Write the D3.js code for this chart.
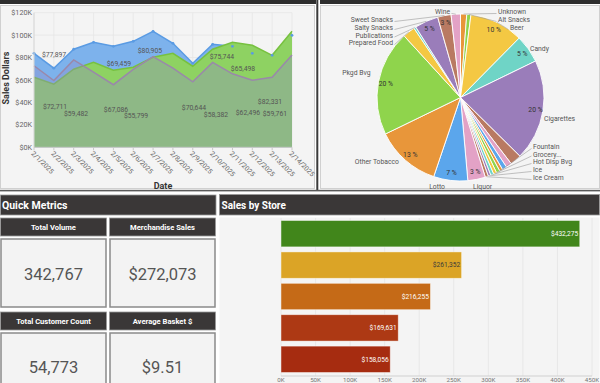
<!DOCTYPE html>
<html><head><meta charset="utf-8">
<script src="https://cdn.jsdelivr.net/npm/d3@7"></script>
<style>
html,body{margin:0;padding:0;background:#fff;}
svg{display:block;font-family:Roboto,"Noto Sans",sans-serif;}
</style></head><body>
<svg id="c" width="600" height="383"></svg>
<script>
// ---------------- DATA ----------------
const dates = ["2025-02-01","2025-02-02","2025-02-03","2025-02-04","2025-02-05","2025-02-06","2025-02-07",
               "2025-02-08","2025-02-09","2025-02-10","2025-02-11","2025-02-12","2025-02-13","2025-02-14"];
const salesBlue   = [83800,70500,87400,93600,90000,94500,103400,92700,74900,91800,90000,83800,82000,99800];
const salesGreen  = [62500,56300,69600,75800,68700,71400,80300,83800,72300,87400,93600,90900,82000,103400];
const salesPurple = [72711,59482,77897,67086,55799,69459,80905,70644,58382,75744,65498,59761,62496,82331];
const yTickValues = [0,20000,40000,60000,80000,100000,120000];

const pieCategories = ["Unknown","Alt Snacks","Beer","Candy","Cigarettes","Coffee","Dairy","Deli","Energy",
  "Fountain","Grocery...","Hot Disp Bvg","Ice","Ice Cream","Liquor","Lotto","Other Tobacco","Pkgd Bvg",
  "Prepared Food","Publications","Salty Snacks","Sweet Snacks","Wine"];
const pieShares = [1.2,0.8,10.4,5.4,19.6,2.2,1.1,0.9,0.6,0.7,0.6,0.6,0.5,0.6,3.4,6.6,12.6,20.4,2.4,0.4,4.6,2.6,1.8];
const pieLabelled = ["Unknown","Alt Snacks","Beer","Candy","Cigarettes","Fountain","Grocery...","Hot Disp Bvg",
  "Ice","Ice Cream","Liquor","Lotto","Other Tobacco","Pkgd Bvg","Prepared Food","Publications","Salty Snacks",
  "Sweet Snacks","Wine"];

const storeIds = ["S1","S2","S3","S4","S5"];
const storeSales = [432275,261352,216255,169631,158056];
const barTickValues = [0,50000,100000,150000,200000,250000,300000,350000,400000,450000];

const metricNames = ["Total Volume","Merchandise Sales","Total Customer Count","Average Basket $"];
const metricValues = ["342,767","$272,073","54,773","$9.51"];

// ---------------- LAYOUT / STYLE ----------------
const svg = d3.select("#c");

// panels
svg.append("rect").attr("x",0).attr("y",0).attr("width",316).attr("height",4).attr("fill","#2e2e2e");
svg.append("rect").attr("x",320).attr("y",0).attr("width",280).attr("height",4).attr("fill","#2e2e2e");
svg.append("rect").attr("x",0.5).attr("y",5.5).attr("width",314).attr("height",183).attr("fill","#f4f4f4").attr("stroke","#d0d0d0");
svg.append("rect").attr("x",320.5).attr("y",5.5).attr("width",279).attr("height",183).attr("fill","#f4f4f4").attr("stroke","#d0d0d0");
svg.append("rect").attr("x",316.3).attr("y",0).attr("width",2).attr("height",191).attr("fill","#3a3a3a");
svg.append("rect").attr("x",0).attr("y",189.8).attr("width",600).attr("height",1.6).attr("fill","#5a5a5a");

// ---------------- AREA CHART ----------------
const parse = d3.timeParse("%Y-%m-%d");
const dts = dates.map(parse);
const x = d3.scaleTime().domain(d3.extent(dts)).range([34,292]);
const y = d3.scaleLinear().domain([0,120000]).range([147.3,12.7]);
const g1 = svg.append("g");

g1.selectAll(".hg").data(yTickValues).join("line")
  .attr("x1",34).attr("x2",292).attr("y1",d=>y(d)).attr("y2",d=>y(d))
  .attr("stroke","#e6e6e6").attr("stroke-width",0.8);
g1.selectAll(".vg").data(dts).join("line")
  .attr("x1",d=>x(d)).attr("x2",d=>x(d)).attr("y1",y(120000)).attr("y2",y(0))
  .attr("stroke","#e6e6e6").attr("stroke-width",0.8);

const mkArea = vals => d3.area().x((d,i)=>x(dts[i])).y0(y(0)).y1(d=>y(d))(vals);
const mkLine = vals => d3.line().x((d,i)=>x(dts[i])).y(d=>y(d))(vals);

g1.append("path").attr("d",mkArea(salesBlue)).attr("fill","#7db2ec");
g1.append("path").attr("d",mkLine(salesBlue)).attr("fill","none").attr("stroke","#5a9be3").attr("stroke-width",1.5);
g1.append("path").attr("d",mkArea(salesGreen)).attr("fill","#8ed262");
g1.append("path").attr("d",mkLine(salesGreen)).attr("fill","none").attr("stroke","#77c13f").attr("stroke-width",1.5);
g1.selectAll(".bd").data(salesBlue).join("circle")
  .attr("cx",(d,i)=>x(dts[i])).attr("cy",d=>y(d)).attr("r",1.4).attr("fill","#5a9be3");
g1.append("path").attr("d",mkArea(salesPurple)).attr("fill","rgb(143,138,199)").attr("fill-opacity",0.36);
g1.append("path").attr("d",mkLine(salesPurple)).attr("fill","none").attr("stroke","#9a88aa").attr("stroke-width",1.5);

g1.append("line").attr("x1",34).attr("x2",292).attr("y1",y(0)).attr("y2",y(0)).attr("stroke","#c8c8c8");
g1.append("line").attr("x1",34).attr("x2",34).attr("y1",y(120000)).attr("y2",y(0)).attr("stroke","#d8d8d8");
g1.selectAll(".xt").data(dts).join("line")
  .attr("x1",d=>x(d)).attr("x2",d=>x(d)).attr("y1",y(0)).attr("y2",y(0)+3).attr("stroke","#c8c8c8");
g1.selectAll(".yl").data(yTickValues).join("text")
  .attr("x",32).attr("y",d=>y(d)).attr("dy","0.35em").attr("text-anchor","end")
  .attr("font-size",7.2).attr("fill","#666").text(d=>"$"+d/1000+"K");
const fmtDate = d3.timeFormat("%-m/%-d/%Y");
g1.selectAll(".xl").data(dts).join("text")
  .attr("transform",d=>`translate(${x(d)-1.5},${y(0)+5}) rotate(45)`)
  .attr("dy","0.35em").attr("text-anchor","start").attr("font-size",6.8).attr("fill","#666")
  .text(d=>fmtDate(d));
g1.append("text").attr("x",163).attr("y",186).attr("dy","0.35em").attr("text-anchor","middle")
  .attr("font-size",9).attr("font-weight","bold").attr("fill","#333").text("Date");
g1.append("text").attr("transform","translate(6,78) rotate(-90)").attr("dy","0.35em").attr("text-anchor","middle")
  .attr("font-size",9).attr("font-weight","bold").attr("fill","#333").text("Sales Dollars");

// data labels (label layout: placement and horizontal shift in date steps)
const labelPlace = ["mid","mid","top","mid","mid","top","top","mid","mid","top","top","mid","mid","mid"];
const labelShift = [1.06,1.12,-0.99,1.13,1.14,-0.72,-0.16,1.06,1.17,0.47,0.53,1.14,-1.22,-1.11];
const step = x(dts[1]) - x(dts[0]);
const fmtMoney = d3.format("$,");
g1.selectAll(".dl").data(salesPurple).join("text")
  .attr("x",(d,i)=>x(dts[i]) + labelShift[i]*step)
  .attr("y",(d,i)=> labelPlace[i]==="top" ? y(d)-5.5 : y(d/2))
  .attr("dy","0.35em").attr("text-anchor","middle").attr("font-size",6.8).attr("fill","#555")
  .text(d=>fmtMoney(d));

// ---------------- PIE ----------------
const cx = 460.5, cy = 97.5, R = 83.5;
const palette = ["#e8963a","#8fd44c","#f4c843","#6fd4c6","#9a7dba","#b97a62","#e3a2c6","#5ba6ec"];
const pieData = pieCategories.map((c,i)=>({cat:c, share:pieShares[i], idx:i}));
const arcs = d3.pie().sort(null).value(d=>d.share)(pieData);
const arc = d3.arc().innerRadius(0).outerRadius(R);
const gp = svg.append("g").attr("transform",`translate(${cx},${cy})`);
gp.selectAll("path").data(arcs).join("path").attr("d",arc)
  .attr("fill",d=>palette[d.data.idx % palette.length]).attr("stroke","#fff").attr("stroke-width",0.9);

const pctArc = d3.arc().innerRadius(R-7.5).outerRadius(R-7.5);
gp.selectAll(".pct").data(arcs.filter(d=>Math.round(d.data.share)>=3)).join("text")
  .attr("transform",d=>`translate(${pctArc.centroid(d)})`).attr("dy","0.35em").attr("text-anchor","middle")
  .attr("font-size",6.8).attr("fill","#333").text(d=>Math.round(d.data.share)+" %");

const nameLayout = {
  "Unknown":[37.5,-85.5,"start",1], "Alt Snacks":[37.5,-77.5,"start",1], "Beer":[49.5,-69.5,"start",1],
  "Candy":[69.5,-48.5,"start",0], "Cigarettes":[83.5,21.5,"start",0],
  "Fountain":[72.5,49.5,"start",1], "Grocery...":[72.5,57,"start",1], "Hot Disp Bvg":[72.5,64.5,"start",1],
  "Ice":[72.5,72.5,"start",1], "Ice Cream":[72.5,80.5,"start",1],
  "Liquor":[12.5,89.5,"start",0], "Lotto":[-15.5,89.5,"end",0], "Other Tobacco":[-61.5,64.5,"end",0],
  "Pkgd Bvg":[-90,-24.5,"end",0], "Prepared Food":[-67.5,-54.5,"end",1], "Publications":[-67.5,-62,"end",1],
  "Salty Snacks":[-67.5,-69.5,"end",1], "Sweet Snacks":[-67.5,-77.5,"end",1], "Wine":[-10.5,-85.5,"end",1]
};
const lab = arcs.filter(d=>pieLabelled.includes(d.data.cat));
const edge = d3.arc().innerRadius(R).outerRadius(R);
gp.selectAll(".ld").data(lab.filter(d=>nameLayout[d.data.cat][3])).join("line")
  .attr("x1",d=>{const L=nameLayout[d.data.cat]; return L[0] + (L[2]==="start"?-1.5:1.5);})
  .attr("y1",d=>nameLayout[d.data.cat][1]+1.5)
  .attr("x2",d=>edge.centroid(d)[0]).attr("y2",d=>edge.centroid(d)[1])
  .attr("stroke","#9a9a9a").attr("stroke-width",0.6);
gp.selectAll(".nm").data(lab).join("text")
  .attr("x",d=>nameLayout[d.data.cat][0]).attr("y",d=>nameLayout[d.data.cat][1])
  .attr("dy","0.35em").attr("text-anchor",d=>nameLayout[d.data.cat][2])
  .attr("font-size",6.8).attr("fill","#555").text(d=>d.data.cat);

// ---------------- QUICK METRICS ----------------
const hdr = "#3a3737";
svg.append("rect").attr("x",0.5).attr("y",195).attr("width",215.5).attr("height",20).attr("fill",hdr).attr("stroke","#9a9a9a").attr("stroke-width",0.8);
svg.append("text").attr("x",2).attr("y",205).attr("dy","0.35em").attr("font-size",10.5).attr("font-weight","bold").attr("fill","#fff").text("Quick Metrics");
const cellX = [0.5,109.5], headY = [218,312], valY = [239,333], valH = [68,60];
metricNames.forEach((m,i)=>{
  const col = i%2, row = Math.floor(i/2);
  svg.append("rect").attr("x",cellX[col]).attr("y",headY[row]).attr("width",106).attr("height",18)
    .attr("fill",hdr).attr("stroke","#9a9a9a").attr("stroke-width",0.8);
  svg.append("text").attr("x",cellX[col]+53).attr("y",headY[row]+9).attr("dy","0.35em").attr("text-anchor","middle")
    .attr("font-size",7.6).attr("font-weight","bold").attr("fill","#fff").text(m);
  svg.append("rect").attr("x",cellX[col]+0.5).attr("y",valY[row]).attr("width",105).attr("height",valH[row])
    .attr("fill","#f3f3f3").attr("stroke","#8a8a8a").attr("stroke-width",1.5);
  svg.append("text").attr("x",cellX[col]+53).attr("y",row===0?274:367).attr("dy","0.35em").attr("text-anchor","middle")
    .attr("font-size",16.5).attr("fill","#555").text(metricValues[i]);
});

// ---------------- SALES BY STORE ----------------
svg.append("rect").attr("x",219.5).attr("y",194.5).attr("width",380).attr("height",20.5).attr("fill",hdr).attr("stroke","#9a9a9a").attr("stroke-width",0.8);
svg.append("text").attr("x",221.5).attr("y",205).attr("dy","0.35em").attr("font-size",10).attr("font-weight","bold").attr("fill","#fff").text("Sales by Store");
svg.append("rect").attr("x",219.5).attr("y",217.5).attr("width",380).attr("height",170).attr("fill","#f4f4f4");

const bx = d3.scaleLinear().domain([0,450000]).range([281,592]);
const by = d3.scaleBand().domain(storeIds).range([218,375]).paddingInner(0.16).paddingOuter(0.08);
const barColors = ["#41861b","#dba426","#c56a17","#ad3914","#a62c10"];
const labelColors = ["#fff","#3a3a3a","#fff","#fff","#fff"];
const gb = svg.append("g");
gb.selectAll(".bg").data(barTickValues).join("line")
  .attr("x1",d=>bx(d)).attr("x2",d=>bx(d)).attr("y1",218).attr("y2",376)
  .attr("stroke","#e4e4e4").attr("stroke-width",0.8);
gb.selectAll(".bar").data(storeSales).join("rect")
  .attr("x",bx(0)).attr("y",(d,i)=>by(storeIds[i])).attr("width",d=>bx(d)-bx(0)).attr("height",by.bandwidth())
  .attr("fill",(d,i)=>barColors[i]).attr("stroke","rgba(255,255,255,0.55)").attr("stroke-width",0.8);
gb.selectAll(".bl").data(storeSales).join("text")
  .attr("x",d=>bx(d)-1.5).attr("y",(d,i)=>by(storeIds[i])+by.bandwidth()/2).attr("dy","0.35em")
  .attr("text-anchor","end").attr("font-size",6.6).attr("fill",(d,i)=>labelColors[i]).text(d=>fmtMoney(d));
gb.append("line").attr("x1",281).attr("x2",592).attr("y1",376).attr("y2",376).attr("stroke","#d0d0d0");
gb.selectAll(".bt").data(barTickValues).join("text")
  .attr("x",d=>bx(d)).attr("y",381.5).attr("text-anchor","middle")
  .attr("font-size",6.2).attr("fill","#777").text(d=>d/1000+"K");
</script>
</body></html>
